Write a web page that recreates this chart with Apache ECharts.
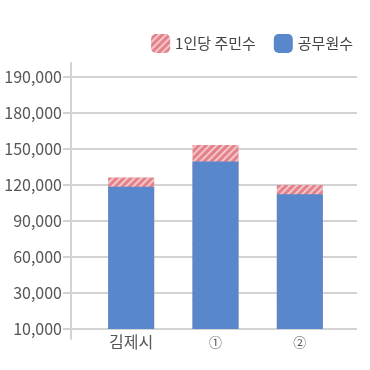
<!DOCTYPE html>
<html lang="ko">
<head>
    <meta charset="UTF-8">
    <title>공무원수 비교</title>
    <script type="text/javascript" src="https://cdn.jsdelivr.net/npm/echarts@6/dist/echarts.min.js"></script>
    <style>
        html, body { margin: 0; padding: 0; background: #fff; }
    </style>
</head>
<body>
    <div id="main" style="width: 370px; height: 370px;"></div>

    <script type="text/javascript">
        // data
        var categories = ['김제시', '①', '②'];
        var officials = [118500, 139500, 112200];      // 공무원수 (blue)
        var totals = [126300, 153300, 120000];         // top of 1인당 주민수 segment
        var yTicks = [10000, 30000, 60000, 90000, 120000, 150000, 180000, 190000];

        // tick labels are evenly spaced, so map a value onto the tick index
        function toPos(v) {
            for (var i = 0; i < yTicks.length - 1; i++) {
                if (v <= yTicks[i + 1]) {
                    return i + (v - yTicks[i]) / (yTicks[i + 1] - yTicks[i]);
                }
            }
            return yTicks.length - 1;
        }

        var font = "'Noto Sans CJK KR', 'Noto Sans', sans-serif";
        var lineColor = '#d3d3d3';

        var myChart = echarts.init(document.getElementById('main'));

        myChart.setOption({
            animation: false,
            textStyle: { fontFamily: font },
            legend: {
                right: 12,
                top: 29,
                itemWidth: 19,
                itemHeight: 19,
                itemGap: 18,
                icon: 'roundRect',
                textStyle: { fontSize: 15, color: '#444', fontFamily: font },
                data: ['1인당 주민수', '공무원수']
            },
            grid: [
                // axis line only
                { left: 71, right: 13, top: 63, bottom: 31 },
                // labels and grid lines
                { left: 71, right: 13, top: 77, bottom: 41 },
                // bars
                { left: 89, right: 28, top: 77, bottom: 41 }
            ],
            xAxis: [
                { gridIndex: 0, type: 'value', show: false },
                { gridIndex: 1, type: 'value', show: false },
                {
                    gridIndex: 2,
                    type: 'category',
                    data: categories,
                    axisLine: { show: false },
                    axisTick: { show: false },
                    axisLabel: {
                        fontSize: 16, color: '#555', margin: 5, fontFamily: font,
                        formatter: function(v) {
                            // circled digits look smaller in the original
                            return v.length === 1 ? '{c|' + v + '}' : v;
                        },
                        rich: { c: { fontSize: 13, color: '#555', fontFamily: font, padding: [2, 0, 0, 0] } }
                    }
                }
            ],
            yAxis: [
                {
                    gridIndex: 0, type: 'value', min: 0, max: 1,
                    axisLine: { show: true, lineStyle: { color: lineColor, width: 2 } },
                    axisTick: { show: false },
                    axisLabel: { show: false },
                    splitLine: { show: false }
                },
                {
                    gridIndex: 1, type: 'value', min: 0, max: 7, interval: 1,
                    axisLine: { show: false },
                    axisTick: { show: true, length: 8, lineStyle: { color: lineColor, width: 2 } },
                    axisLabel: {
                        fontSize: 16, color: '#555', margin: 9, fontFamily: font,
                        formatter: function(v) { return yTicks[v].toLocaleString('en-US'); }
                    },
                    splitLine: { lineStyle: { color: lineColor, width: 2 } }
                },
                { gridIndex: 2, type: 'value', min: 0, max: 7, interval: 1, show: false }
            ],
            series: [{
                name: '1인당 주민수',
                type: 'bar',
                xAxisIndex: 2,
                yAxisIndex: 2,
                barWidth: 46,
                data: totals.map(toPos),
                itemStyle: {
                    color: '#e4818a',
                    decal: {
                        symbol: 'rect',
                        symbolSize: 1,
                        dashArrayX: [1, 0],
                        dashArrayY: [2, 2.6],
                        rotation: -Math.PI / 4,
                        color: 'rgba(255,255,255,0.55)'
                    }
                }
            }, {
                name: '공무원수',
                type: 'bar',
                xAxisIndex: 2,
                yAxisIndex: 2,
                barWidth: 46,
                barGap: '-100%',
                data: officials.map(toPos),
                itemStyle: { color: '#5887cc' }
            }]
        });
    </script>
</body>
</html>
